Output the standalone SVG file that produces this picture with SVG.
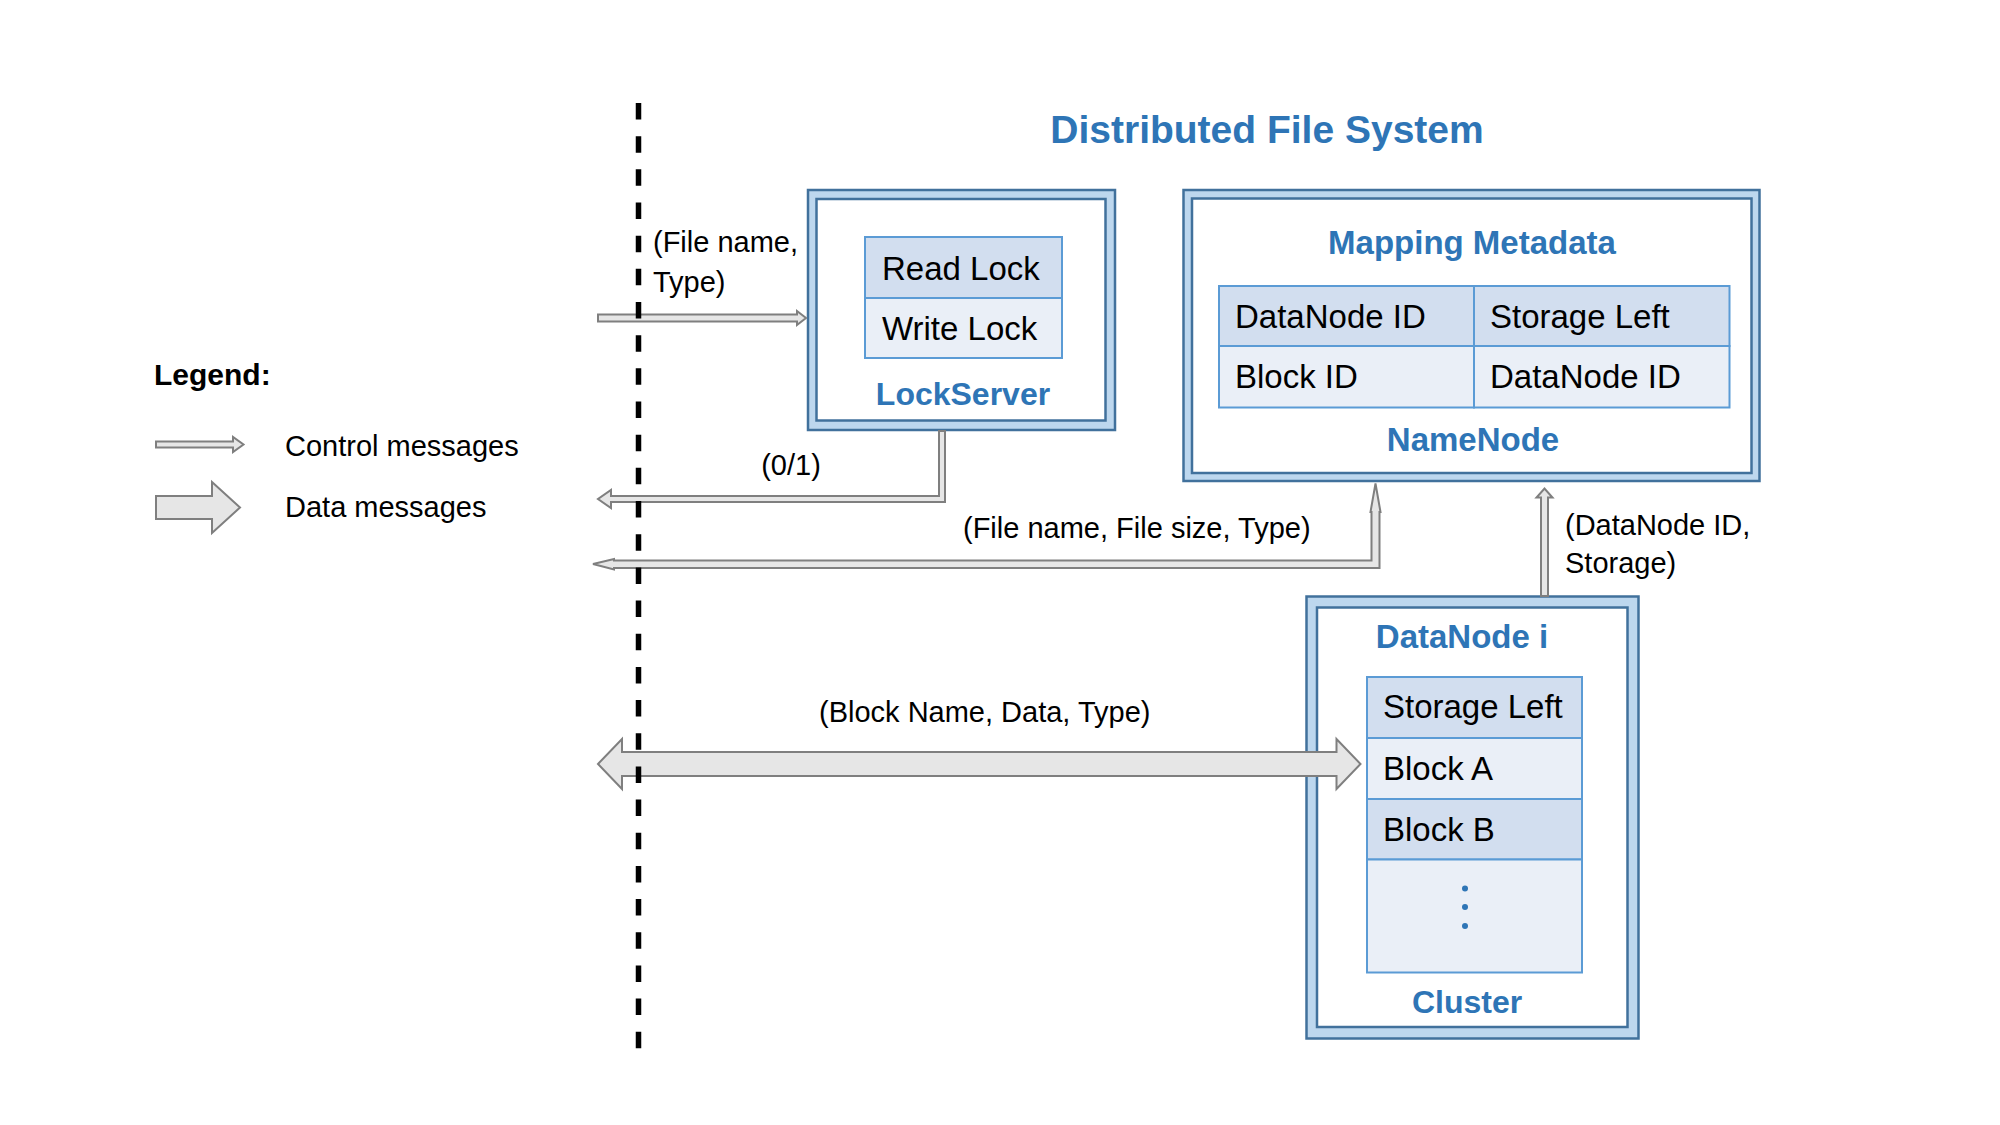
<svg xmlns="http://www.w3.org/2000/svg" width="2000" height="1125" viewBox="0 0 2000 1125">
<style>
text{font-family:"Liberation Sans",Arial,sans-serif}
.lbl{font-size:29px;fill:#000}
.cell{font-size:33px;fill:#000}
.head{font-size:32px;font-weight:bold;fill:#2E75B6;text-anchor:middle}
.big{font-size:33px}
.title{font-size:39px;font-weight:bold;fill:#2E75B6;text-anchor:middle}
.legend{font-size:30px;font-weight:bold;fill:#000}
.outer{fill:#BDD7EE;stroke:#41719C;stroke-width:2.5}
.inner{fill:#FFFFFF;stroke:#41719C;stroke-width:2.5}
.dark{fill:#D2DEEF;stroke:#5B9BD5;stroke-width:2}
.light{fill:#EAEFF7;stroke:#5B9BD5;stroke-width:2}
.arr{fill:#E6E6E6;stroke:#7F7F7F;stroke-width:2;stroke-linejoin:miter}
.dot{fill:#2E75B6}
</style>
<rect width="2000" height="1125" fill="#FFFFFF"/>
<text class="title" x="1267" y="143">Distributed File System</text>

<g id="legend">
<text class="legend" x="154" y="385">Legend:</text>
<polygon class="arr" points="156,441.5 233,441.5 233,437 243.5,444.5 233,452 233,447.5 156,447.5"/>
<text class="lbl" x="285" y="456">Control messages</text>
<polygon class="arr" points="156,496 212,496 212,482 240,507.5 212,533 212,519 156,519"/>
<text class="lbl" x="285" y="517">Data messages</text>
</g>

<g id="lockserver">
<rect class="outer" x="808" y="190" width="307" height="240"/>
<rect class="inner" x="816.5" y="199" width="289" height="221.5"/>
<rect class="dark" x="865" y="237" width="197" height="61"/>
<rect class="light" x="865" y="298" width="197" height="60"/>
<text class="cell" x="882" y="280">Read Lock</text>
<text class="cell" x="882" y="340">Write Lock</text>
<text class="head" x="963" y="405">LockServer</text>
</g>

<g id="namenode">
<rect class="outer" x="1183.5" y="190" width="576" height="291"/>
<rect class="inner" x="1192" y="198.5" width="559.5" height="274.5"/>
<text class="head big" x="1472" y="254">Mapping Metadata</text>
<rect class="dark" x="1219" y="286" width="255" height="60"/>
<rect class="dark" x="1474" y="286" width="255.5" height="60"/>
<rect class="light" x="1219" y="346" width="255" height="61.5"/>
<rect class="light" x="1474" y="346" width="255.5" height="61.5"/>
<text class="cell" x="1235" y="328">DataNode ID</text>
<text class="cell" x="1490" y="328">Storage Left</text>
<text class="cell" x="1235" y="388">Block ID</text>
<text class="cell" x="1490" y="388">DataNode ID</text>
<text class="head big" x="1473" y="451">NameNode</text>
</g>

<g id="cluster">
<rect class="outer" x="1306.5" y="596.5" width="332" height="442"/>
<rect class="inner" x="1317" y="607.5" width="310.5" height="419.5"/>
<text class="head big" x="1462" y="648">DataNode i</text>
<rect class="dark" x="1367" y="677" width="215" height="61"/>
<rect class="light" x="1367" y="738" width="215" height="61"/>
<rect class="dark" x="1367" y="799" width="215" height="60.5"/>
<rect class="light" x="1367" y="859.5" width="215" height="113"/>
<text class="cell" x="1383" y="718">Storage Left</text>
<text class="cell" x="1383" y="780">Block A</text>
<text class="cell" x="1383" y="841">Block B</text>
<circle class="dot" cx="1465" cy="888.5" r="3"/>
<circle class="dot" cx="1465" cy="907" r="3"/>
<circle class="dot" cx="1465" cy="926" r="3"/>
<text class="head" x="1467" y="1013">Cluster</text>
</g>

<g id="connectors">
<polygon class="arr" points="598,314.5 797,314.5 797,311 806,318 797,325 797,321.5 598,321.5"/>
<polygon class="arr" points="939,431 945,431 945,502 611,502 611,508 598,499 611,490 611,496 939,496"/>
<polygon class="arr" points="593,564 614,559 614,560.5 1371.5,560.5 1371.5,512 1370.5,512 1375.5,483.5 1380.5,512 1379.5,512 1379.5,568 614,568 614,569.5"/>
<polygon class="arr" points="1541,596 1541,497.5 1536.5,497.5 1544.5,488.5 1552.5,497.5 1548,497.5 1548,596"/>
<polygon class="arr" points="598,764 622,739 622,752 1336.5,752 1336.5,739 1360.5,764 1336.5,789 1336.5,776 622,776 622,789"/>
<text class="lbl" x="653" y="252">(File name,</text>
<text class="lbl" x="653" y="292">Type)</text>
<text class="lbl" x="791" y="475" text-anchor="middle">(0/1)</text>
<text class="lbl" x="963" y="538">(File name, File size, Type)</text>
<text class="lbl" x="1565" y="535">(DataNode ID,</text>
<text class="lbl" x="1565" y="573">Storage)</text>
<text class="lbl" x="819" y="722">(Block Name, Data, Type)</text>
</g>

<g id="boundary">
<line x1="638.5" y1="103" x2="638.5" y2="1050" stroke="#000" stroke-width="5.5" stroke-dasharray="16.5 16.67"/>
</g>
</svg>
